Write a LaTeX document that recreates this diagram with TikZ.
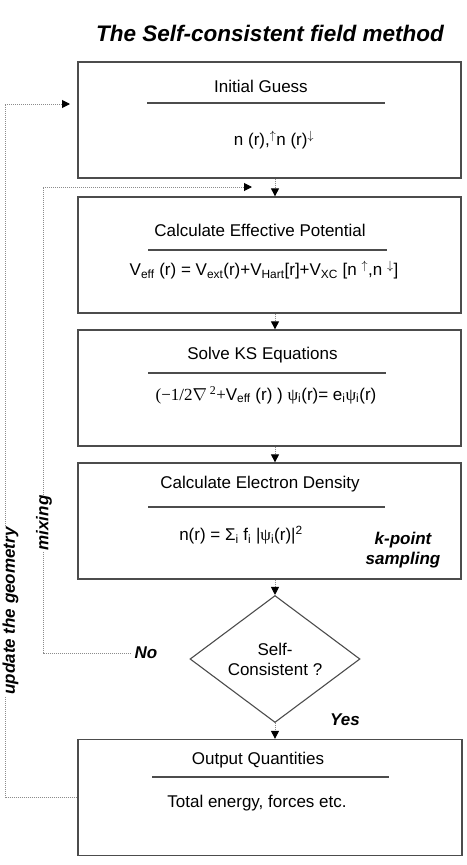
\documentclass[tikz,border=0pt]{standalone}
\usepackage{fontspec}
\setmainfont{Liberation Sans}
\newfontfamily\serifeq{Liberation Serif}
\usepackage{tikz}
\usetikzlibrary{arrows.meta, positioning, shapes.geometric}

\begin{document}
\begin{tikzpicture}[x=1pt, y=-1pt, font=\fontsize{17}{20}\selectfont,
    box/.style={shape=rectangle, draw=black!70, line width=1.3pt, minimum width=383pt, minimum height=116pt},
    rule/.style={draw=black!70, line width=1.1pt},
    flow/.style={draw=black!45, densely dotted, line width=1pt, -{Triangle[width=8pt, length=8pt, black]}},
    tag/.style={font=\fontsize{17}{20}\selectfont\bfseries\itshape}]
    \useasboundingbox (0, 0) rectangle (466, 865);

    \node at (270, 33) (title) [font=\fontsize{22.5}{26}\selectfont\bfseries\itshape] {The Self-consistent field method};

    \node at (269.5, 120) (guess) [box] {};
    \node at (261, 86) (guessT) {Initial Guess};
    \path[rule] (147, 103) -- (385, 103);
    \node at (274, 140) (guessF) {n (r),$^{\uparrow}$n (r)$^{\downarrow}$};

    \node at (269.5, 255) (veff) [box] {};
    \node at (260, 230) (veffT) {Calculate Effective Potential};
    \path[rule] (148, 250) -- (387, 250);
    \node at (264, 270) (veffF) {V\textsubscript{eff} (r) = V\textsubscript{ext}(r)+V\textsubscript{Hart}[r]+V\textsubscript{XC} [n $^{\uparrow}$,n $^{\downarrow}$]};

    \node at (269.5, 388) (ks) [box] {};
    \node at (262.5, 355) (ksT) {Solve KS Equations};
    \path[rule] (148, 373) -- (386, 373);
    \node at (266, 395) (ksF) {{\serifeq (−1/2$\nabla$\,\textsuperscript{2}+}V\textsubscript{eff} (r) ) {\serifeq ψ}\textsubscript{i}(r)= e\textsubscript{i}{\serifeq ψ}\textsubscript{i}(r)};

    \node at (269.5, 521) (dens) [box] {};
    \node at (260, 484) (densT) {Calculate Electron Density};
    \path[rule] (148, 507) -- (385, 507);
    \node at (241, 535) (densF) {n(r) = Σ\textsubscript{i} f\textsubscript{i} |{\serifeq ψ}\textsubscript{i}(r)|\textsuperscript{2}};
    \node at (403, 550) (kpts) [tag, align=center] {k-point\\sampling};

    \node at (275, 659) (sc) [shape=diamond, draw=black!70, line width=1.1pt, minimum width=170pt, minimum height=110pt, inner sep=0pt, align=center] {Self-\\Consistent ?};
    \node at (146, 653) (no) [tag] {No};
    \node at (345, 720) (yes) [tag] {Yes};

    \node at (270, 797.5) (output) [box, minimum width=384pt] {};
    \node at (258, 760) (outputT) {Output Quantities};
    \path[rule] (152, 777) -- (389, 777);
    \node at (257, 803) (outputF) {Total energy, forces etc.};

    % main column
    \path[flow] (guess.south -| sc) -- (veff.north -| sc);
    \path[flow] (veff.south -| sc) -- (ks.north -| sc);
    \path[flow] (ks.south -| sc) -- (dens.north -| sc);
    \path[flow] (dens.south -| sc) -- (sc.north);
    \path[flow] (sc.south) -- (output.north -| sc);

    % mixing loop
    \coordinate (mixcorner) at (43, 187);
    \coordinate (mixin) at (252, 187);
    \path[flow] (no.west) -| (mixcorner) -- (mixin);
    \node at (44, 523) (mixing) [tag, rotate=90, fill=white, inner sep=1pt] {mixing};

    % geometry loop
    \coordinate (geocorner) at (5, 104);
    \coordinate (geoin) at (70, 104);
    \path[flow] (output.west) -| (geocorner) -- (geoin);
    \node at (10.5, 611) (geometry) [tag, rotate=90, fill=white, inner sep=1pt] {update the geometry};

\end{tikzpicture}
\end{document}
